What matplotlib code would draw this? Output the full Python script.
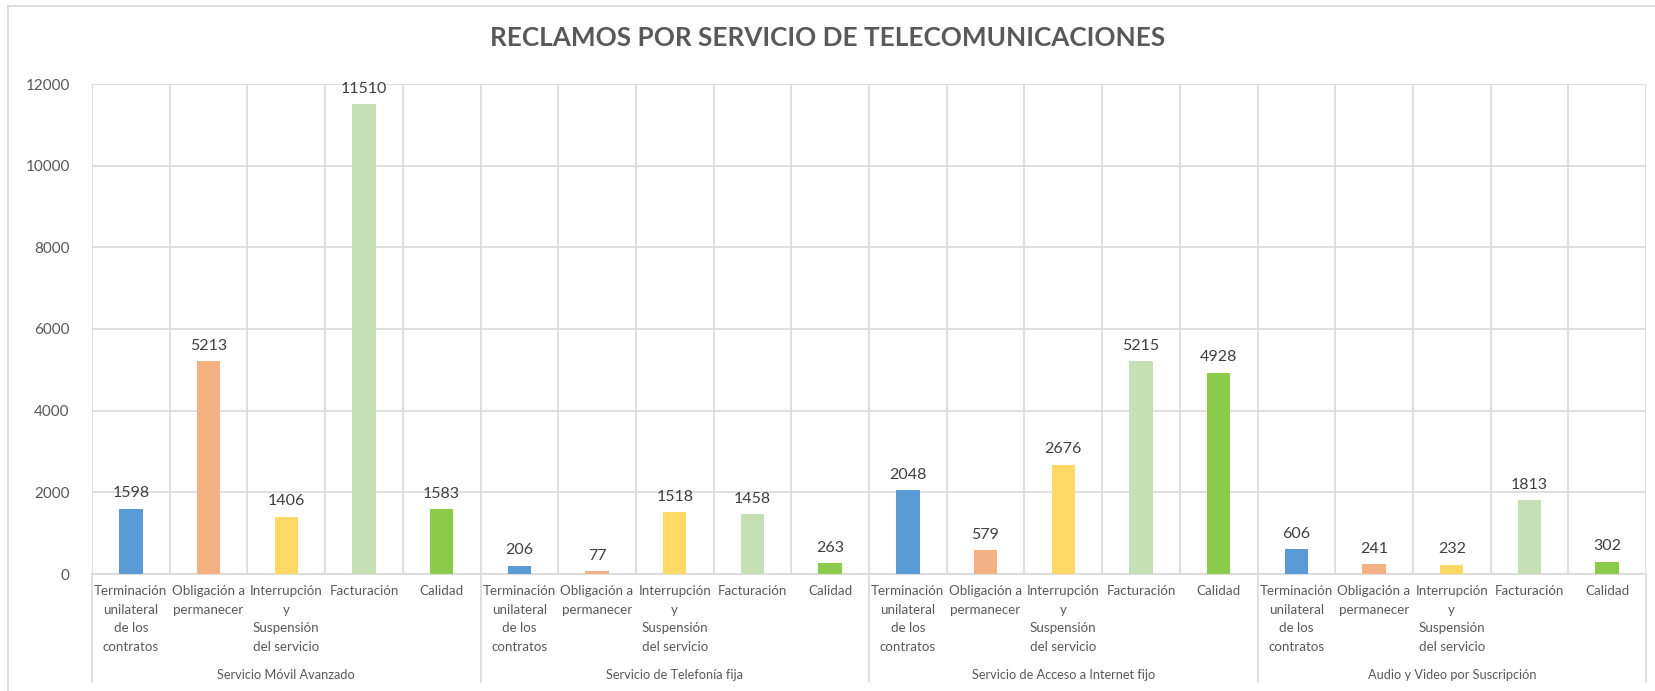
import matplotlib
matplotlib.use("Agg")
import matplotlib.pyplot as plt
import matplotlib.transforms as mtransforms
from matplotlib.lines import Line2D

plt.rcParams['font.family'] = ['Lato', 'DejaVu Sans']

title = "RECLAMOS POR SERVICIO DE TELECOMUNICACIONES"
groups = ["Servicio Móvil Avanzado", "Servicio de Telefonía fija",
          "Servicio de Acceso a Internet fijo", "Audio y Video por Suscripción"]
categories = ["Terminación\nunilateral\nde los\ncontratos", "Obligación a\npermanecer",
              "Interrupción\ny\nSuspensión\ndel servicio", "Facturación", "Calidad"]
movil = [1598, 5213, 1406, 11510, 1583]
telefonia = [206, 77, 1518, 1458, 263]
internet = [2048, 579, 2676, 5215, 4928]
audio_video = [606, 241, 232, 1813, 302]
colors = ["#5B9BD5", "#F4B183", "#FFD966", "#C5E0B4", "#8CCB4A"]
yticks = [0, 2000, 4000, 6000, 8000, 10000, 12000]

W, H = 1655, 691
fig = plt.figure(figsize=(W / 100, H / 100), dpi=100)
x0, x1, ytop, ybot = 92, 1646, 84, 574
ax = fig.add_axes([x0 / W, (H - ybot) / H, (x1 - x0) / W, (ybot - ytop) / H])

series = [movil, telefonia, internet, audio_video]
txt = "#595959"
grid = "#D9D9D9"
n = len(categories)
xs, vals, cols, labels = [], [], [], []
for g, s in enumerate(series):
    for i, v in enumerate(s):
        xs.append(g * n + i)
        vals.append(v)
        cols.append(colors[i])
        labels.append(categories[i])

ax.bar(xs, vals, width=0.3, color=cols, zorder=3)
for x, v in zip(xs, vals):
    ax.annotate(str(v), (x, v), xytext=(0, 6), textcoords="offset points",
                ha="center", va="bottom", fontsize=11.5, color="#404040", zorder=4)

ax.set_xlim(-0.5, len(xs) - 0.5)
ax.set_ylim(0, 12000)
ax.set_yticks(yticks)
ax.tick_params(axis="y", length=0, pad=16, labelsize=11, labelcolor=txt)
ax.set_xticks(xs)
ax.set_xticklabels(labels, fontsize=9.6, color=txt, linespacing=1.65, va="top")
ax.tick_params(axis="x", length=0, pad=8)
for sp in ax.spines.values():
    sp.set_visible(False)
ax.grid(axis="y", color=grid, lw=1.2, zorder=0)
for b in range(len(xs) + 1):
    ax.axvline(b - 0.5, color=grid, lw=1.2, zorder=0)

trans = mtransforms.blended_transform_factory(ax.transData, ax.transAxes)
ybottom_ax = (ybot - 682) / (ybot - ytop)
for g in range(len(groups) + 1):
    ax.add_line(Line2D([g * n - 0.5, g * n - 0.5], [0, ybottom_ax], transform=trans,
                       color=grid, lw=1.2, clip_on=False))
ax.add_line(Line2D([-0.5, len(xs) - 0.5], [0, 0], transform=trans, color=grid, lw=1.2,
                   clip_on=False, zorder=2))
ylab_ax = (ybot - 675) / (ybot - ytop)
for g, name in enumerate(groups):
    ax.text(g * n + (n - 1) / 2, ylab_ax, name, transform=trans, ha="center", va="center",
            fontsize=9.2, color=txt)

fig.text(0.5 * (493 + 1163) / W, 1 - 38 / H, title, ha="center", va="center",
         fontsize=18.8, fontweight="bold", color=txt)

# chart frame
fig.add_artist(Line2D([8 / W, 8 / W], [0, 1 - 6 / H], transform=fig.transFigure, color=grid, lw=1.2))
fig.add_artist(Line2D([8 / W, 1], [1 - 6 / H, 1 - 6 / H], transform=fig.transFigure, color=grid, lw=1.2))

fig.savefig("out.png", dpi=100, facecolor="white")
